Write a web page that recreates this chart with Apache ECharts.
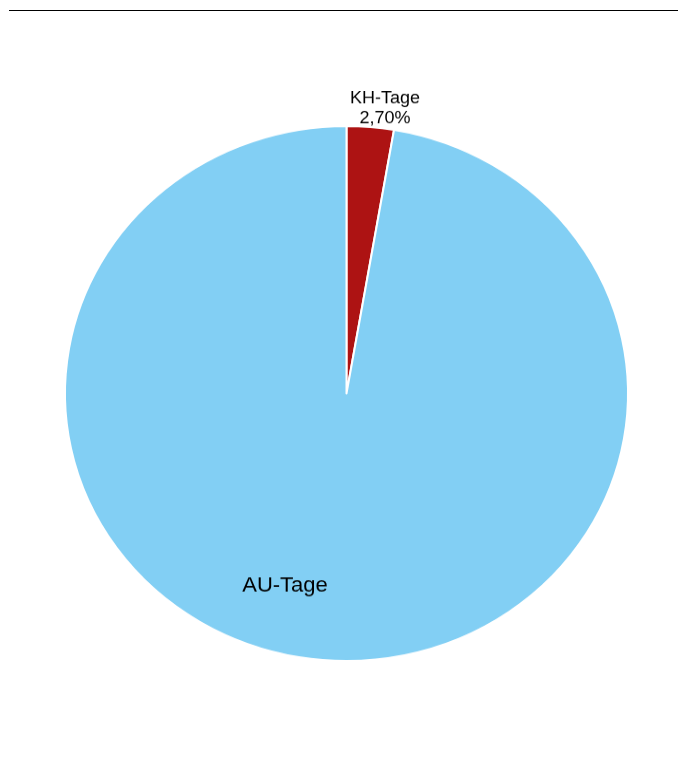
<!DOCTYPE html>
<html>
<head>
<meta charset="utf-8">
<script src="https://cdn.jsdelivr.net/npm/echarts@6/dist/echarts.min.js"></script>
<style>
  html, body { margin: 0; padding: 0; background: #ffffff; }
  #rule { position: absolute; left: 9px; top: 10px; width: 669px; height: 0; border-top: 1px solid #000000; }
  #wrap { position: absolute; left: 0; top: 0; width: 678px; height: 769px; transform: scaleY(0.95); transform-origin: 0 393.5px; }
  #chart { width: 678px; height: 769px; }
</style>
</head>
<body>
<div id="rule"></div>
<div id="wrap"><div id="chart"></div></div>
<script>
const categories = ['KH-Tage', 'AU-Tage'];
const values = [2.70, 97.30];
const colors = ['#AD1313', '#82CFF4'];

const chart = echarts.init(document.getElementById('chart'), null, { renderer: 'canvas' });
chart.setOption({
  animation: false,
  series: [{
    type: 'pie',
    center: [346.5, 393.5],
    radius: [0, 281.5],
    startAngle: 90,
    clockwise: true,
    avoidLabelOverlap: false,
    itemStyle: { borderColor: '#ffffff', borderWidth: 2 },
    labelLine: { show: false },
    label: {
      show: true,
      position: 'outside',
      fontFamily: 'Liberation Sans, Arial, sans-serif',
      color: '#000000'
    },
    labelLayout: function (p) {
      if (p.dataIndex === 0) {
        return { x: 385, y: 94, align: 'center', verticalAlign: 'middle' };
      }
      return { x: 285, y: 596, align: 'center', verticalAlign: 'middle' };
    },
    data: categories.map(function (name, i) {
      const item = { name: name, value: values[i], itemStyle: { color: colors[i] } };
      if (i === 0) {
        item.label = {
          fontSize: 18, lineHeight: 21,
          formatter: function (p) { return p.name + '\n' + p.percent.toFixed(2).replace('.', ',') + '%'; }
        };
      } else {
        item.label = { fontSize: 22, formatter: function (p) { return p.name; } };
      }
      return item;
    })
  }]
});
</script>
</body>
</html>
